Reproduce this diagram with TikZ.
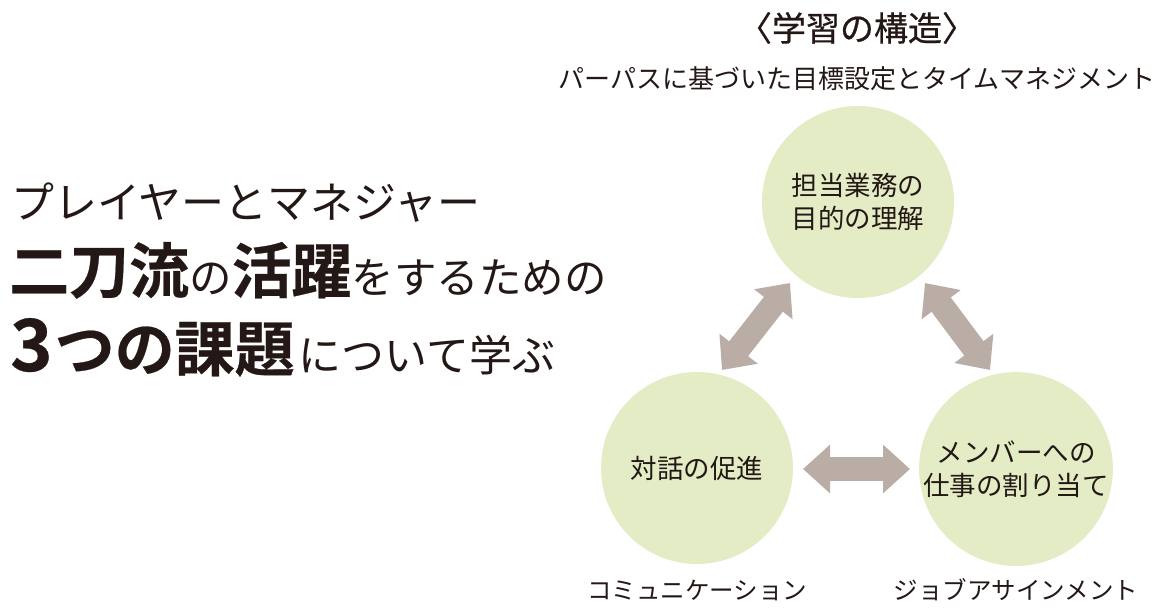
\documentclass[tikz,border=0pt]{standalone}
\usepackage{fontspec}
\setmainfont{Noto Sans CJK JP}
\newfontfamily\boldjp[FakeBold=0.4]{Noto Sans CJK JP Bold}
\newfontfamily\titlejp[FakeBold=0.6]{Noto Sans CJK JP}
\usetikzlibrary{arrows.meta}
\definecolor{ink}{RGB}{35,24,21}
\definecolor{circfill}{RGB}{227,236,196}
\definecolor{arrc}{RGB}{185,173,165}
\newcommand{\fsz}[1]{\fontsize{#1pt}{#1pt}\selectfont}
\tikzset{
  circ/.style={circle, fill=circfill, minimum size=192pt, inner sep=0pt, text=ink, align=center,
    font=\fontsize{26.5pt}{33pt}\selectfont},
  lbl/.style={text=ink, inner sep=0pt, font=\fontsize{24.5pt}{24.5pt}\selectfont},
  dbl/.style={line width=24pt, draw=arrc,
    {Triangle[width=47pt,length=27pt]}-{Triangle[width=47pt,length=27pt]}},
  headline/.style={text=ink, inner sep=0pt, anchor=base west},
}
\begin{document}
\begin{tikzpicture}[x=1pt,y=-1pt]
\useasboundingbox[fill=white] (0,0) rectangle (1170,613);
% titles
\node[text=ink, inner sep=0pt, font=\titlejp\fsz{34}] (title) at (857,28) {〈学習の構造〉};
\node[text=ink, inner sep=0pt, font=\fsz{26}] (sub) at (857,79) {パーパスに基づいた目標設定とタイムマネジメント};
% circles
\node[circ] (top) at (858,202) {担当業務の\\目的の理解};
\node[circ] (lft) at (697,468) {対話の促進};
\node[circ] (rgt) at (1016,469) {メンバーへの\\仕事の割り当て};
% labels below circles
\node[lbl] (lab1) at (697,590) {コミュニケーション};
\node[lbl] (lab2) at (1016,590) {ジョブアサインメント};
% arrow end coordinates
\coordinate (a1) at (722,370);
\coordinate (a2) at (790,283);
\coordinate (b1) at (925,283);
\coordinate (b2) at (990,370);
\coordinate (c1) at (803,469);
\coordinate (c2) at (910,469);
\draw[dbl] (a1) -- (a2);
\draw[dbl] (b1) -- (b2);
\draw[dbl] (c1) -- (c2);
% left headline
\node[headline, font=\fsz{43}] (h1) at (11,218) {プレイヤーとマネジャー};
\node[headline] (h2) at (9,293) {{\boldjp\fsz{60}二刀流}{\fsz{42.5}の}{\boldjp\fsz{60}活躍}{\fsz{42.5}をするための}};
\node[headline] (h3) at (10,371) {{\boldjp\fsz{72}3}\hspace{2pt}{\boldjp\fsz{60}つの課題}\hspace{4pt}{\fsz{43}について学ぶ}};
\end{tikzpicture}
\end{document}
